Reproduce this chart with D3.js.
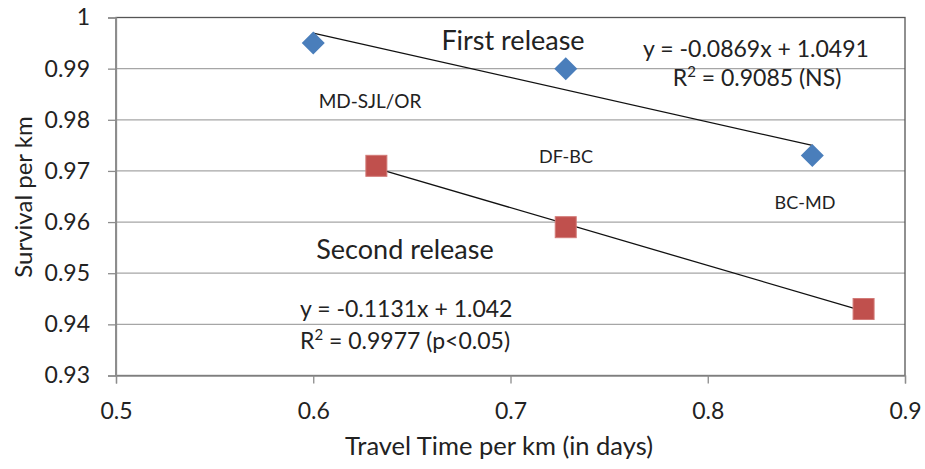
<!DOCTYPE html>
<html>
<head>
<meta charset="utf-8">
<script src="https://cdn.jsdelivr.net/npm/d3@7"></script>
<style>
  body { margin: 0; background: #fff; }
  text { font-family: Lato, "Open Sans", sans-serif; fill: #222; }
</style>
</head>
<body>
<div id="chart"></div>
<script>
var width = 925,
    height = 469;

// data
var firstTime = [0.600, 0.728, 0.853],
    firstSurvival = [0.995, 0.990, 0.973];
var secondTime = [0.632, 0.728, 0.879],
    secondSurvival = [0.971, 0.959, 0.943];
var trendSlope = [-0.0869, -0.1131],
    trendIntercept = [1.0491, 1.042];
var xTicks = [0.5, 0.6, 0.7, 0.8, 0.9],
    yTicks = [0.93, 0.94, 0.95, 0.96, 0.97, 0.98, 0.99, 1];

var x = d3.scaleLinear().domain([0.5, 0.9]).range([116, 905]);
var y = d3.scaleLinear().domain([0.93, 1]).range([375.5, 17.5]);

var svg = d3.select("#chart").append("svg")
    .attr("width", width)
    .attr("height", height);

// gridlines
svg.append("g")
  .selectAll("line")
  .data(yTicks)
  .enter().append("line")
    .attr("x1", x(0.5)).attr("x2", x(0.9))
    .attr("y1", function(d) { return y(d); })
    .attr("y2", function(d) { return y(d); })
    .attr("stroke", "#a6a6a6")
    .attr("stroke-width", 1.2);

// plot border
svg.append("rect")
    .attr("x", x(0.5)).attr("y", y(1))
    .attr("width", x(0.9) - x(0.5))
    .attr("height", y(0.93) - y(1))
    .attr("fill", "none")
    .attr("stroke", "#555")
    .attr("stroke-width", 1.3);

var yAxis = svg.append("g")
    .attr("transform", "translate(" + x(0.5) + ",0)")
    .call(d3.axisLeft(y).tickValues(yTicks).tickSize(8).tickPadding(18)
      .tickFormat(function(d) { return d === 1 ? "1" : d3.format(".2f")(d); }));

var xAxis = svg.append("g")
    .attr("transform", "translate(0," + y(0.93) + ")")
    .call(d3.axisBottom(x).tickValues(xTicks).tickSize(8).tickPadding(19)
      .tickFormat(d3.format(".1f")));

[xAxis, yAxis].forEach(function(a) {
  a.select(".domain").attr("stroke", "#8c8c8c").attr("stroke-width", 1.3);
  a.selectAll(".tick line").attr("stroke", "#8c8c8c").attr("stroke-width", 1.3);
  a.selectAll(".tick text").style("font-size", "23px").attr("fill", "#333");
});

// trendlines
var series = [
  { xs: firstTime, ys: firstSurvival },
  { xs: secondTime, ys: secondSurvival }
];
series.forEach(function(s, i) {
  var x0 = d3.min(s.xs), x1 = d3.max(s.xs);
  svg.append("line")
      .attr("x1", x(x0)).attr("y1", y(trendSlope[i] * x0 + trendIntercept[i]))
      .attr("x2", x(x1)).attr("y2", y(trendSlope[i] * x1 + trendIntercept[i]))
      .attr("stroke", "#111")
      .attr("stroke-width", 1.3);
});

// markers
svg.append("g")
  .selectAll("path")
  .data(d3.range(firstTime.length))
  .enter().append("path")
    .attr("transform", function(i) { return "translate(" + x(firstTime[i]) + "," + y(firstSurvival[i]) + ")"; })
    .attr("d", "M0,-11.5L11.5,0L0,11.5L-11.5,0Z")
    .attr("fill", "#4a7ebb");

svg.append("g")
  .selectAll("rect")
  .data(d3.range(secondTime.length))
  .enter().append("rect")
    .attr("x", function(i) { return x(secondTime[i]) - 10.5; })
    .attr("y", function(i) { return y(secondSurvival[i]) - 10.5; })
    .attr("width", 21).attr("height", 21)
    .attr("fill", "#c0504d")
    .attr("stroke", "#d27a77")
    .attr("stroke-width", 1);

// annotations
function label(tx, ty, str, size, anchor) {
  return svg.append("text")
      .attr("x", tx).attr("y", ty)
      .attr("text-anchor", anchor || "start")
      .style("font-size", size + "px")
      .text(str);
}

function rsq(tx, ty, rest, anchor) {
  var t = label(tx, ty, "", 23, anchor);
  t.append("tspan").text("R");
  t.append("tspan").attr("dy", -9).style("font-size", "15px").text("2");
  t.append("tspan").attr("dy", 9).text(" = " + rest);
}

label(513, 50, "First release", 27, "middle");
label(756, 57, "y = -0.0869x + 1.0491", 23, "middle");
rsq(757, 86, "0.9085 (NS)", "middle");

label(370, 108, "MD-SJL/OR", 19, "middle");
label(566, 163, "DF-BC", 18, "middle");
label(805, 209, "BC-MD", 18, "middle");

label(405, 259, "Second release", 27, "middle");
label(300, 317, "y = -0.1131x + 1.042", 23, "start");
rsq(300, 349, "0.9977 (p<0.05)", "start");

// axis titles
svg.append("text")
    .attr("transform", "translate(32,197)rotate(-90)")
    .attr("text-anchor", "middle")
    .style("font-size", "24px")
    .text("Survival per km");

svg.append("text")
    .attr("x", 499).attr("y", 455)
    .attr("text-anchor", "middle")
    .style("font-size", "25.5px")
    .text("Travel Time per km (in days)");
</script>
</body>
</html>
